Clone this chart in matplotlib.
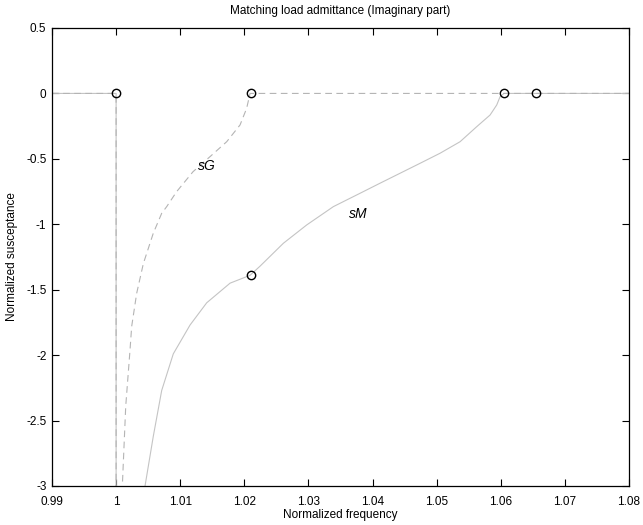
import matplotlib
matplotlib.use("Agg")
import matplotlib.pyplot as plt

plt.rcParams['font.family'] = ['Liberation Sans', 'DejaVu Sans']
plt.rcParams['axes.unicode_minus'] = False

# sG curve (dashed)
sG_x = [0.99, 1.0, 1.0, 1.0009, 1.00097, 1.0015, 1.00217, 1.00243, 1.00321, 1.00425,
        1.0058, 1.00711, 1.00789, 1.00945, 1.0120, 1.01465, 1.01725, 1.01933,
        1.02036, 1.02089, 1.08]
sG_y = [0, 0, -3.5, -3.5, -3.0, -2.39, -1.96, -1.78, -1.527, -1.30,
        -1.068, -0.916, -0.865, -0.75, -0.598, -0.483, -0.369, -0.241,
        -0.114, 0, 0]

# sM curve (solid)
sM_x = [0.99, 1.0, 1.0, 1.0043, 1.00451, 1.0058, 1.00711, 1.00892, 1.01153, 1.01413,
        1.01777, 1.02089, 1.02245, 1.02609, 1.02973, 1.03389, 1.03805, 1.04117,
        1.04429, 1.04741, 1.05053, 1.05365, 1.05625, 1.05833, 1.05937, 1.05989,
        1.0605, 1.08]
sM_y = [0, 0, -3.5, -3.5, -3.0, -2.62, -2.27, -1.99, -1.77, -1.60,
        -1.45, -1.39, -1.32, -1.145, -1.005, -0.865, -0.763, -0.686,
        -0.61, -0.534, -0.457, -0.369, -0.254, -0.165, -0.088, -0.025,
        0, 0]

# marked points
mk_x = [1.0, 1.021, 1.0605, 1.0655, 1.021]
mk_y = [0, 0, 0, 0, -1.39]

xticks = [0.99, 1.0, 1.01, 1.02, 1.03, 1.04, 1.05, 1.06, 1.07, 1.08]
xlabels = ['0.99', '1', '1.01', '1.02', '1.03', '1.04', '1.05', '1.06', '1.07', '1.08']
yticks = [0.5, 0, -0.5, -1, -1.5, -2, -2.5, -3]
ylabels = ['0.5', '0', '-0.5', '-1', '-1.5', '-2', '-2.5', '-3']

fig = plt.figure(figsize=(6.43, 5.25), dpi=100)
ax = fig.add_axes([52 / 643, 39 / 525, 577 / 643, 458 / 525])

ax.plot(sM_x, sM_y, color='#c4c4c4', lw=0.8)
ax.plot(sG_x, sG_y, color='#b4b4b4', lw=0.8, dashes=(6, 4))
ax.plot(mk_x, mk_y, 'o', ms=6, mfc='none', mec='black', mew=1.0)

ax.text(1.01418, -0.554, 'sG', style='italic', fontsize=10, ha='center', va='center')
ax.text(1.03774, -0.921, 'sM', style='italic', fontsize=10, ha='center', va='center')

ax.set_xlim(0.99, 1.08)
ax.set_ylim(-3, 0.5)
ax.set_xticks(xticks)
ax.set_xticklabels(xlabels)
ax.set_yticks(yticks)
ax.set_yticklabels(ylabels)
ax.tick_params(direction='in', top=True, right=True, labelsize=8.5, length=5, width=0.8)
ax.tick_params(axis='x', pad=7)
ax.tick_params(axis='y', pad=4)
for s in ax.spines.values():
    s.set_linewidth(0.9)

ax.set_title('Matching load admittance (Imaginary part)', fontsize=8.5, pad=10)
ax.set_xlabel('Normalized frequency', fontsize=8.5, labelpad=1)
ax.set_ylabel('Normalized susceptance', fontsize=8.5, labelpad=6)

fig.savefig('out.png', dpi=100)
